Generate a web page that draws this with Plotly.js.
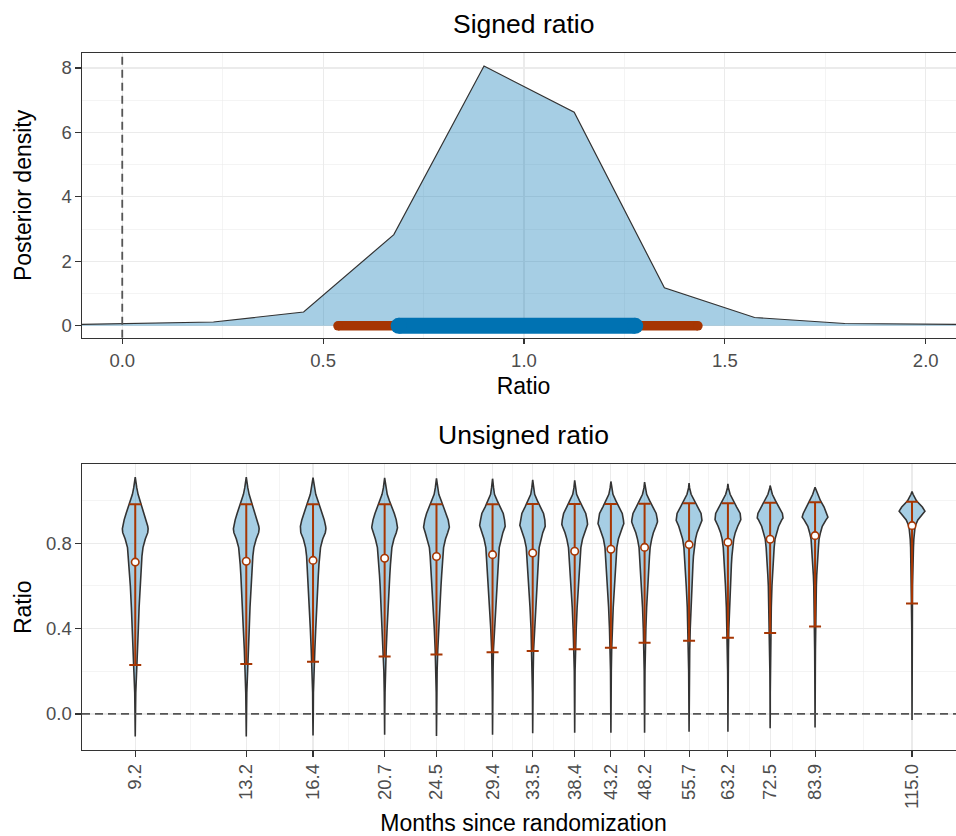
<!DOCTYPE html>
<html>
<head>
<meta charset="utf-8">
<script src="https://cdn.plot.ly/plotly-3.0.1.min.js"></script>
<style>
  html, body { margin: 0; padding: 0; overflow: hidden; background: #fff; }
  #chart { width: 966px; height: 836px; }
</style>
</head>
<body>
<div id="chart"></div>
<script>
// ---------- Top panel data: "Signed ratio" posterior density ----------
const densityX = [-0.222, 0.0025, 0.227, 0.4515, 0.676, 0.9005, 1.125, 1.3495, 1.574, 1.7985, 2.023, 2.2475];
const densityY = [0.02, 0.08, 0.12, 0.43, 2.83, 8.06, 6.63, 1.18, 0.26, 0.074, 0.045, 0.03];
const intervalOuter = [0.537, 1.433];   // wide credible interval
const intervalInner = [0.688, 1.277];   // narrow credible interval
const intervalLevel = [0, 0];
const signedRefX = 0;                   // dashed reference line
const topXTicks = [0, 0.5, 1, 1.5, 2];
const topXLabels = ["0.0", "0.5", "1.0", "1.5", "2.0"];
const topYTicks = [0, 2, 4, 6, 8];
const topYLabels = ["0", "2", "4", "6", "8"];

// ---------- Bottom panel data: "Unsigned ratio" by months ----------
const months = [9.2, 13.2, 16.4, 20.7, 24.5, 29.4, 33.5, 38.4, 43.2, 48.2, 55.7, 63.2, 72.5, 83.9, 115.0];
const monthLabels = ["9.2", "13.2", "16.4", "20.7", "24.5", "29.4", "33.5", "38.4", "43.2", "48.2", "55.7", "63.2", "72.5", "83.9", "115.0"];
const means = [0.712, 0.716, 0.72, 0.73, 0.738, 0.747, 0.755, 0.763, 0.772, 0.781, 0.794, 0.805, 0.819, 0.836, 0.883];
const lower = [0.229, 0.234, 0.245, 0.27, 0.279, 0.289, 0.295, 0.303, 0.31, 0.334, 0.343, 0.357, 0.38, 0.41, 0.518];
const upper = [0.983, 0.983, 0.983, 0.983, 0.983, 0.983, 0.984, 0.984, 0.985, 0.986, 0.988, 0.988, 0.99, 0.993, 0.995];
const unsignedRefY = 0;
const bottomYTicks = [0, 0.4, 0.8];
const bottomYLabels = ["0.0", "0.4", "0.8"];

// violin outlines: tips, peak, relative half-width at fixed levels
const violinTipHigh = [1.11, 1.11, 1.108, 1.107, 1.105, 1.103, 1.098, 1.095, 1.09, 1.087, 1.082, 1.079, 1.071, 1.063, 1.043];
const violinTipLow = [-0.106, -0.106, -0.101, -0.098, -0.103, -0.098, -0.09, -0.088, -0.088, -0.088, -0.083, -0.083, -0.067, -0.063, -0.028];
const violinPeak = [0.868, 0.868, 0.868, 0.873, 0.876, 0.884, 0.884, 0.889, 0.892, 0.9, 0.908, 0.911, 0.919, 0.923, 0.951];
const violinLevels = [1.10, 1.06, 1.03, 1.00, 0.97, 0.94, 0.91, 0.88, 0.85, 0.82, 0.78, 0.74, 0.70, 0.65, 0.60, 0.50, 0.40, 0.30, 0.20, 0.10, 0.00];
const violinWidths = [
  [0.02,0.12,0.22,0.38,0.55,0.71,0.86,0.97,0.97,0.78,0.60,0.52,0.48,0.43,0.38,0.30,0.24,0.16,0.09,0.04,0.02],
  [0.02,0.12,0.22,0.38,0.55,0.71,0.86,0.97,0.96,0.77,0.59,0.51,0.47,0.42,0.37,0.29,0.23,0.15,0.08,0.04,0.02],
  [0.02,0.11,0.21,0.38,0.56,0.72,0.87,0.98,0.95,0.75,0.58,0.50,0.46,0.41,0.36,0.28,0.21,0.14,0.07,0.03,0.02],
  [0.02,0.10,0.20,0.37,0.57,0.75,0.90,0.99,0.90,0.72,0.56,0.49,0.45,0.40,0.35,0.26,0.19,0.12,0.06,0.03,0.01],
  [0.01,0.09,0.18,0.37,0.57,0.77,0.91,0.99,0.87,0.70,0.55,0.49,0.45,0.40,0.35,0.25,0.17,0.10,0.05,0.02,0.01],
  [0.01,0.08,0.15,0.36,0.58,0.83,0.93,0.98,0.80,0.66,0.52,0.48,0.44,0.39,0.34,0.23,0.14,0.07,0.04,0.02,0.01],
  [0.01,0.07,0.15,0.36,0.60,0.84,0.94,0.97,0.78,0.64,0.50,0.46,0.42,0.37,0.32,0.21,0.13,0.07,0.04,0.02,0.01],
  [0.00,0.06,0.15,0.37,0.62,0.86,0.96,0.95,0.75,0.61,0.48,0.43,0.40,0.35,0.30,0.19,0.12,0.06,0.03,0.02,0.01],
  [0.00,0.06,0.16,0.38,0.63,0.88,0.97,0.92,0.72,0.58,0.46,0.41,0.37,0.33,0.28,0.18,0.11,0.06,0.03,0.02,0.01],
  [0.00,0.05,0.16,0.39,0.65,0.90,0.99,0.88,0.68,0.55,0.43,0.38,0.34,0.30,0.25,0.16,0.10,0.05,0.03,0.02,0.01],
  [0.00,0.04,0.16,0.40,0.67,0.93,0.97,0.80,0.62,0.50,0.40,0.34,0.30,0.26,0.22,0.14,0.09,0.05,0.03,0.02,0.01],
  [0.00,0.04,0.17,0.40,0.68,0.95,0.95,0.76,0.57,0.45,0.36,0.31,0.27,0.23,0.19,0.12,0.07,0.04,0.02,0.01,0.01],
  [0.00,0.03,0.17,0.41,0.69,0.95,0.90,0.66,0.50,0.38,0.31,0.26,0.22,0.18,0.14,0.09,0.06,0.04,0.02,0.01,0.01],
  [0.00,0.02,0.18,0.42,0.70,0.92,0.85,0.56,0.42,0.31,0.26,0.21,0.17,0.13,0.10,0.06,0.04,0.03,0.02,0.01,0.01],
  [0.00,0.00,0.08,0.34,0.80,0.86,0.45,0.24,0.18,0.14,0.11,0.09,0.07,0.06,0.04,0.03,0.02,0.015,0.01,0.01,0.01]
];

// ---------- styles ----------
const FONT = '"Liberation Sans", Arial, Helvetica, sans-serif';
const ORANGE = '#a63603';
const BLUE = '#0072B2';
const FILL = 'rgba(0,114,178,0.35)';
const OUTLINE = '#333333';
const GRID = '#EBEBEB';
const VIOLIN_HALF_LOG = 0.0182; // max half-width of a violin, in log10 units of the x axis

// ---------- traces ----------
const traces = [];

traces.push({
  type: 'scatter', mode: 'lines', x: densityX, y: densityY,
  fill: 'tozeroy', fillcolor: FILL,
  line: { color: OUTLINE, width: 1.2 },
  xaxis: 'x', yaxis: 'y', hoverinfo: 'skip'
});
traces.push({
  type: 'scatter', mode: 'lines+markers', x: intervalOuter, y: intervalLevel,
  line: { color: ORANGE, width: 9.5 }, marker: { color: ORANGE, size: 9.5, line: { width: 0 } },
  xaxis: 'x', yaxis: 'y', hoverinfo: 'skip'
});
traces.push({
  type: 'scatter', mode: 'lines+markers', x: intervalInner, y: intervalLevel,
  line: { color: BLUE, width: 16 }, marker: { color: BLUE, size: 16, line: { width: 0 } },
  xaxis: 'x', yaxis: 'y', hoverinfo: 'skip'
});

months.forEach((m, i) => {
  const pts = [[violinTipHigh[i], 0], [violinPeak[i], 1], [violinTipLow[i], 0]];
  violinLevels.forEach((lv, j) => {
    if (lv < violinTipHigh[i] && lv > violinTipLow[i] && Math.abs(lv - violinPeak[i]) > 0.004) pts.push([lv, violinWidths[i][j]]);
  });
  pts.sort((a, b) => b[0] - a[0]);
  const xs = [], ys = [];
  pts.forEach(p => { xs.push(m * Math.pow(10, p[1] * VIOLIN_HALF_LOG)); ys.push(p[0]); });
  for (let k = pts.length - 1; k >= 0; k--) { xs.push(m * Math.pow(10, -pts[k][1] * VIOLIN_HALF_LOG)); ys.push(pts[k][0]); }
  traces.push({
    type: 'scatter', mode: 'lines', x: xs, y: ys, fill: 'toself', fillcolor: FILL,
    line: { color: OUTLINE, width: 1.6 }, xaxis: 'x2', yaxis: 'y2', hoverinfo: 'skip'
  });
});

traces.push({
  type: 'scatter', mode: 'markers', x: months, y: means,
  error_y: {
    type: 'data', symmetric: false,
    array: upper.map((u, i) => u - means[i]),
    arrayminus: means.map((m, i) => m - lower[i]),
    color: ORANGE, thickness: 2, width: 6
  },
  marker: { color: '#ffffff', size: 7.5, line: { color: ORANGE, width: 1.6 } },
  xaxis: 'x2', yaxis: 'y2'
});

// geometric midpoints between months for minor gridlines
const minorMonths = months.slice(1).map((m, i) => Math.sqrt(m * months[i]));

const tickFont = { family: FONT, size: 18.5, color: '#4D4D4D' };
const titleFont = { family: FONT, size: 23, color: '#000000' };
const axisCommon = {
  showline: true, mirror: true, linecolor: OUTLINE, linewidth: 1.1,
  ticks: 'outside', ticklen: 5.5, tickwidth: 1.1, tickcolor: OUTLINE,
  showgrid: true, gridcolor: GRID, gridwidth: 1.1, zeroline: false,
  tickfont: tickFont
};

const layout = {
  width: 966, height: 836,
  margin: { l: 81.7, r: 0.7, t: 52.7, b: 86, pad: 0 },
  paper_bgcolor: '#ffffff', plot_bgcolor: '#ffffff',
  showlegend: false,
  font: { family: FONT },
  xaxis: Object.assign({}, axisCommon, {
    domain: [0, 1], anchor: 'y', range: [-0.1002, 2.0978],
    tickmode: 'array', tickvals: topXTicks, ticktext: topXLabels,
    minor: { dtick: 0.25, tick0: 0, showgrid: true, gridcolor: GRID, gridwidth: 0.55 },
    title: { text: 'Ratio', font: titleFont, standoff: 8 }
  }),
  yaxis: Object.assign({}, axisCommon, {
    domain: [0.5913, 1], anchor: 'x', range: [-0.372, 8.465],
    tickmode: 'array', tickvals: topYTicks, ticktext: topYLabels,
    minor: { dtick: 1, tick0: 0, showgrid: true, gridcolor: GRID, gridwidth: 0.55 },
    title: { text: 'Posterior density', font: titleFont, standoff: 23 }
  }),
  xaxis2: Object.assign({}, axisCommon, {
    domain: [0, 1], anchor: 'y2', type: 'log', range: [0.8886, 2.1355],
    tickmode: 'array', tickvals: months, ticktext: monthLabels, tickangle: -90,
    minor: { tickmode: 'array', tickvals: minorMonths, showgrid: true, gridcolor: GRID, gridwidth: 0.55 },
    title: { text: 'Months since randomization', font: titleFont, standoff: 10 }
  }),
  yaxis2: Object.assign({}, axisCommon, {
    domain: [0, 0.40972], anchor: 'x2', range: [-0.169, 1.170],
    tickmode: 'array', tickvals: bottomYTicks, ticktext: bottomYLabels,
    minor: { dtick: 0.2, tick0: 0, showgrid: true, gridcolor: GRID, gridwidth: 0.55 },
    title: { text: 'Ratio', font: titleFont, standoff: 7 }
  }),
  shapes: [
    { type: 'line', xref: 'x', yref: 'y domain', x0: signedRefX, x1: signedRefX, y0: 0, y1: 1,
      line: { color: '#555555', width: 1.8, dash: '8px,5px' }, layer: 'above' },
    { type: 'line', xref: 'x2 domain', yref: 'y2', x0: 0, x1: 1, y0: unsignedRefY, y1: unsignedRefY,
      line: { color: '#555555', width: 1.8, dash: '8px,5px' }, layer: 'above' }
  ],
  annotations: [
    { text: 'Signed ratio', xref: 'paper', yref: 'paper', x: 0.5, y: 1, yanchor: 'middle', xanchor: 'center',
      yshift: 28.9, showarrow: false, font: { family: FONT, size: 26.5, color: '#000000' } },
    { text: 'Unsigned ratio', xref: 'paper', yref: 'paper', x: 0.5, y: 0.40972, yanchor: 'middle', xanchor: 'center',
      yshift: 29.8, showarrow: false, font: { family: FONT, size: 26.5, color: '#000000' } }
  ]
};

Plotly.newPlot('chart', traces, layout, { staticPlot: true, displayModeBar: false });
</script>
</body>
</html>
